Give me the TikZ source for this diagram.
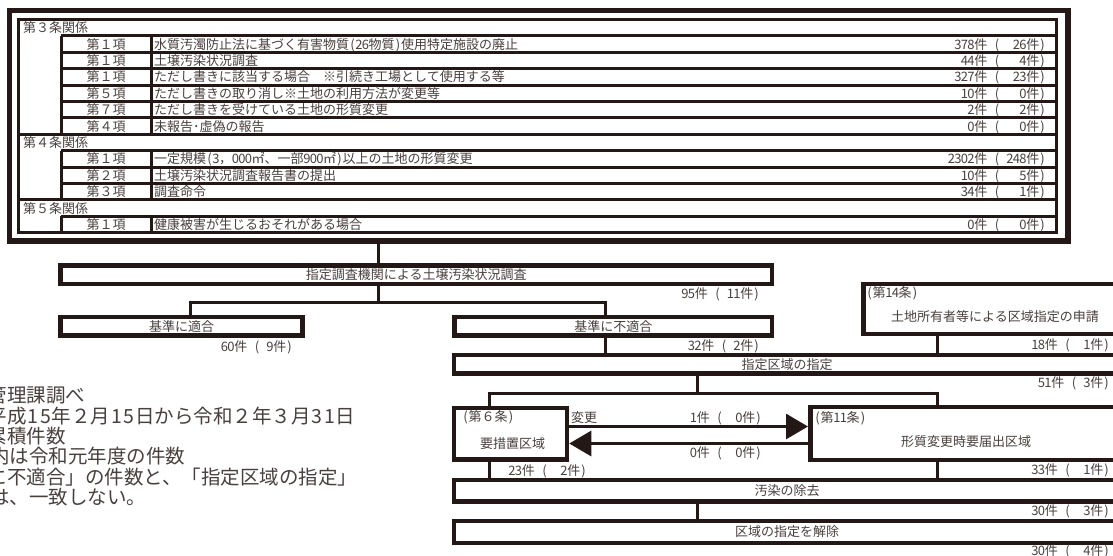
\documentclass[tikz,border=0pt]{standalone}
\usepackage{fontspec}
\setmainfont{Noto Sans CJK JP}
\usetikzlibrary{arrows.meta}
\definecolor{ink}{RGB}{35,24,21}
\definecolor{txt}{RGB}{72,64,62}
\def\hbw{6.5pt}
\newcommand\hb[1]{\makebox[\hbw]{#1}}
\def\hwd#1{\hwdi#1\relax}
\def\hwdi#1{\ifx\relax#1\else\hb{#1}\expandafter\hwdi\fi}
% #1 main number, #2 number in brackets, #3 width of the bracket field in half-width digits
\newcommand\cnt[3]{\hwd{#1}件\hspace{6.5pt}\hb{(}\hspace{6.5pt}\makebox[#3\dimexpr\hbw\relax][r]{\hwd{#2}}件\hb{)}}
\begin{document}
\begin{tikzpicture}[x=1pt,y=-1pt,
  tl/.style={inner sep=0pt, text=txt, font=\fontsize{13}{15}\selectfont, text height=11.4pt, text depth=1.6pt},
  note/.style={inner sep=0pt, text=txt, font=\fontsize{19.5}{22}\selectfont\def\hbw{12.5pt}, text height=17pt, text depth=2.5pt, anchor=west},
  tab/.style={draw=ink, line width=3pt},
  bx/.style={draw=ink, line width=4.5pt, inner sep=0pt, text=txt, font=\fontsize{13}{15}\selectfont, text height=11.4pt, text depth=1.6pt},
  cn/.style={draw=ink, line width=3pt},
  ar/.style={draw=ink, line width=3pt, -{Triangle[length=22pt,width=25pt]}}
]
\useasboundingbox (0,0) rectangle (1113,555);
\clip (0,0) rectangle (1113,555);
\fill[white] (0,0) rectangle (1113,555);

% ---- outer frame ----
\node[draw=ink, line width=5.5pt, inner sep=0pt, minimum width=1058.5pt, minimum height=230.7pt] (frame) at (538.75,125.65) {};

% ---- table ----
\draw[tab] (18.5,19.5) rectangle (1056.5,232.7);
\foreach \i in {7,11} \draw[tab] (18.5,{19.5+16.4*\i}) -- (1056.5,{19.5+16.4*\i});
\foreach \i in {1,2,3,4,5,6,8,9,10,12} \draw[tab] (61,{19.5+16.4*\i}) -- (1056.5,{19.5+16.4*\i});
\foreach \a/\b in {1/7,8/11,12/13} {
  \draw[tab] (61,{19.5+16.4*\a}) -- (61,{19.5+16.4*\b});
  \draw[tab] (151,{19.5+16.4*\a}) -- (151,{19.5+16.4*\b});
}
\foreach \i/\t in {0/第３条関係,7/第４条関係,11/第５条関係}
  \node[tl, anchor=west] (h\i) at (23,{19.5+16.4*(\i+0.5)}) {\t};
\foreach \i/\k/\d/\c in {
  1/第１項/{水質汚濁防止法に基づく有害物質\hb{(}\hwd{26}物質\hb{)}使用特定施設の廃止}/{\cnt{378}{26}{3}},
  2/第１項/{土壌汚染状況調査}/{\cnt{44}{4}{3}},
  3/第１項/{ただし書きに該当する場合　※引続き工場として使用する等}/{\cnt{327}{23}{3}},
  4/第５項/{ただし書きの取り消し※土地の利用方法が変更等}/{\cnt{10}{0}{3}},
  5/第７項/{ただし書きを受けている土地の形質変更}/{\cnt{2}{2}{3}},
  6/第４項/{未報告･虚偽の報告}/{\cnt{0}{0}{3}},
  8/第１項/{一定規模\hb{(}\hwd{3}，\hwd{000}㎡、一部\hwd{900}㎡\hb{)}以上の土地の形質変更}/{\cnt{2302}{248}{3}},
  9/第２項/{土壌汚染状況調査報告書の提出}/{\cnt{10}{5}{3}},
  10/第３項/{調査命令}/{\cnt{34}{1}{3}},
  12/第１項/{健康被害が生じるおそれがある場合}/{\cnt{0}{0}{3}}} {
  \node[tl] (k\i) at (106,{19.5+16.4*(\i+0.5)}) {\k};
  \node[tl, anchor=west] (d\i) at (154,{19.5+16.4*(\i+0.5)}) {\d};
  \node[tl, anchor=east] (c\i) at (1046,{19.5+16.4*(\i+0.5)}) {\c};
}

% ---- flow boxes ----
\node[bx, minimum width=711.5pt, minimum height=18.5pt] (chosa) at (416.25,274.75) {指定調査機関による土壌汚染状況調査};
\node[bx, minimum width=242pt, minimum height=18.5pt] (tekigo) at (181.5,326.25) {基準に適合};
\node[bx, minimum width=317.5pt, minimum height=18.5pt] (futekigo) at (613.25,326.25) {基準に不適合};
\node[bx, minimum width=263pt, minimum height=50pt] (shinsei) at (995,309) {};
\node[bx, minimum width=666pt, minimum height=18.5pt] (shitei) at (787,364.25) {指定区域の指定};
\node[bx, minimum width=113pt, minimum height=51.5pt] (yosochi) at (510.5,433.75) {};
\node[bx, minimum width=307.5pt, minimum height=53pt] (keishitsu) at (964,433.5) {};
\node[bx, minimum width=666pt, minimum height=21.5pt] (osen) at (787,490.75) {汚染の除去};
\node[bx, minimum width=666pt, minimum height=22pt] (kaijo) at (787,532) {区域の指定を解除};

% texts inside two-line boxes
\node[tl, anchor=west] (s14) at (866,293) {\hb{(}第\hwd{14}条\hb{)}};
\node[tl] (s14t) at (995,317) {土地所有者等による区域指定の申請};
\node[tl, anchor=west] (y6) at (462,417) {\hb{(}第６条\hb{)}};
\node[tl] (y6t) at (512.5,444) {要措置区域};
\node[tl, anchor=west] (k11) at (814,418) {\hb{(}第\hwd{11}条\hb{)}};
\node[tl] (k11t) at (966,442) {形質変更時要届出区域};

% ---- connectors ----
\coordinate (x1) at (378.5,0);
\coordinate (x2) at (190,0);
\coordinate (x3) at (605,0);
\coordinate (x4) at (937.5,0);
\coordinate (x5) at (489,0);
\coordinate (x6) at (697.5,0);
\coordinate (j1) at (378.5,302.3);
\coordinate (j2) at (697.5,393);
\draw[cn] (frame.south -| x1) -- (chosa.north -| x1);
\draw[cn] (chosa.south -| x1) -- (j1);
\draw[cn] (tekigo.north -| x2) |- (j1) -| (futekigo.north -| x3);
\draw[cn] (futekigo.south -| x3) -- (shitei.north -| x3);
\draw[cn] (shinsei.south -| x4) -- (shitei.north -| x4);
\draw[cn] (shitei.south -| x6) -- (j2);
\draw[cn] (yosochi.north -| x5) |- (j2) -| (keishitsu.north -| x4);
\draw[cn] (yosochi.south -| x5) -- (osen.north -| x5);
\draw[cn] (keishitsu.south -| x4) -- (osen.north -| x4);
\draw[cn] (osen.south -| x6) -- (kaijo.north -| x6);
\draw[ar] (yosochi.east |- 0,426.5) -- (keishitsu.west |- 0,426.5);
\draw[ar] (keishitsu.west |- 0,443.5) -- (yosochi.east |- 0,443.5);

% ---- count labels ----
\node[tl, anchor=east] (n95) at (760,294) {\cnt{95}{11}{2}};
\node[tl, anchor=east] (n60) at (293,347) {\cnt{60}{9}{1}};
\node[tl, anchor=east] (n32) at (760,345.5) {\cnt{32}{2}{1}};
\node[tl, anchor=east] (n18) at (1110,345) {\cnt{18}{1}{2}};
\node[tl, anchor=east] (n51) at (1110,383) {\cnt{51}{3}{1}};
\node[tl, anchor=west] (hen) at (571,418) {変更};
\node[tl, anchor=east] (n1) at (762,418) {\cnt{1}{0}{2}};
\node[tl, anchor=east] (n0) at (762,453) {\cnt{0}{0}{2}};
\node[tl, anchor=east] (n23) at (587,471) {\cnt{23}{2}{2}};
\node[tl, anchor=east] (n33) at (1110,470) {\cnt{33}{1}{2}};
\node[tl, anchor=east] (n30a) at (1110,511) {\cnt{30}{3}{2}};
\node[tl, anchor=east] (n30b) at (1110,551) {\cnt{30}{4}{2}};

% ---- notes (cut at left edge) ----
\node[note] (m1) at (-12.5,395) {管理課調べ};
\node[note] (m2) at (-12.5,416) {平成\hwd{15}年２月\hwd{15}日から令和２年３月\hwd{31}日};
\node[note] (m3) at (-12.5,436) {累積件数};
\node[note] (m4) at (-10,456) {内は令和元年度の件数};
\node[note] (m5) at (-12.5,477) {に不適合」の件数と、「指定区域の指定」};
\node[note] (m6) at (-10,497) {は、一致しない。};
\end{tikzpicture}
\end{document}
